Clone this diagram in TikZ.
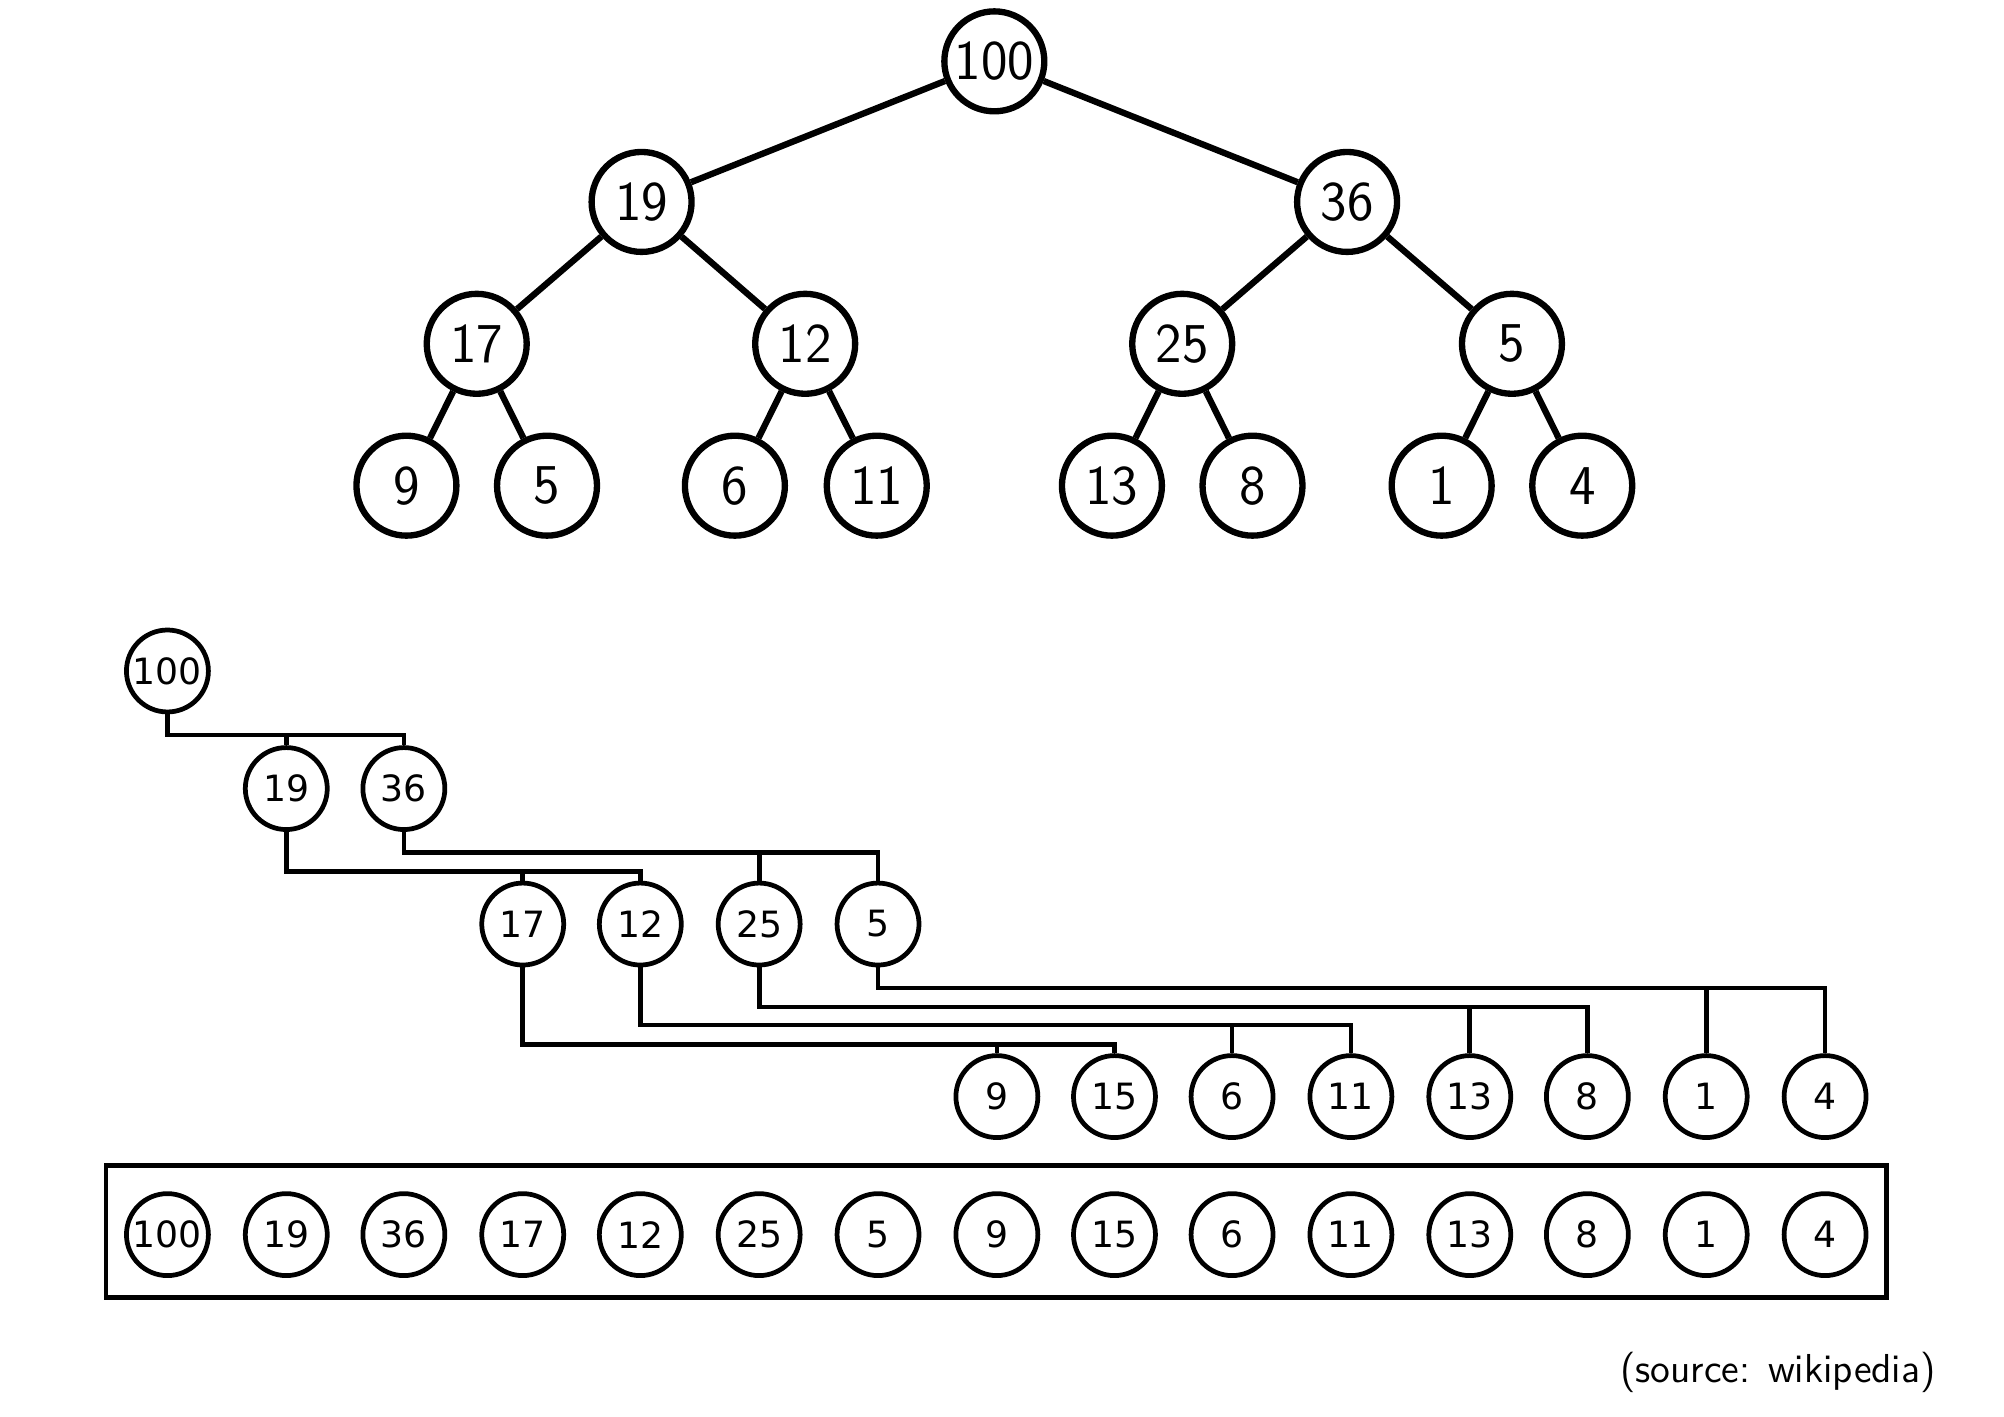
\documentclass[tikz,border=0pt]{standalone}
\usepackage{fontspec}
\newfontfamily\dejavu{DejaVu Sans}
\usepackage{tikz}

\begin{document}
\begin{tikzpicture}[x=0.01278cm,y=-0.01278cm,
  big/.style={draw,circle,line width=1.8pt,minimum size=1cm,inner sep=0pt,font=\sffamily\fontsize{16}{18}\selectfont},
  small/.style={draw,circle,line width=1.35pt,minimum size=0.82cm,inner sep=0pt,font=\dejavu\fontsize{10.3}{12}\selectfont},
  bigline/.style={line width=1.8pt},
  smallline/.style={line width=1.35pt}]
                \useasboundingbox (0,0) rectangle (1568,1108);
                % the tree
                \node[big] (t100) at (778,48) {100};
                \node[big] (t19) at (502,158) {19};
                \node[big] (t36) at (1054,158) {36};
                \node[big] (t17) at (373,269) {17};
                \node[big] (t12) at (630,269) {12};
                \node[big] (t25) at (925,269) {25};
                \node[big] (t5) at (1183,269) {5};
                \node[big] (t9) at (318,380) {9};
                \node[big] (t5b) at (428,380) {5};
                \node[big] (t6) at (575,380) {6};
                \node[big] (t11) at (686,380) {11};
                \node[big] (t13) at (870,380) {13};
                \node[big] (t8) at (980,380) {8};
                \node[big] (t1) at (1128,380) {1};
                \node[big] (t4) at (1238,380) {4};
                \draw[bigline] (t100) -- (t19);
                \draw[bigline] (t100) -- (t36);
                \draw[bigline] (t19) -- (t17);
                \draw[bigline] (t19) -- (t12);
                \draw[bigline] (t36) -- (t25);
                \draw[bigline] (t36) -- (t5);
                \draw[bigline] (t17) -- (t9);
                \draw[bigline] (t17) -- (t5b);
                \draw[bigline] (t12) -- (t6);
                \draw[bigline] (t12) -- (t11);
                \draw[bigline] (t25) -- (t13);
                \draw[bigline] (t25) -- (t8);
                \draw[bigline] (t5) -- (t1);
                \draw[bigline] (t5) -- (t4);
                % the levels
                \node[small] (l100) at (131,525) {100};
                \node[small] (l19) at (224,617) {19};
                \node[small] (l36) at (316,617) {36};
                \node[small] (l17) at (409,723) {17};
                \node[small] (l12) at (501,723) {12};
                \node[small] (l25) at (594,723) {25};
                \node[small] (l5) at (687,723) {5};
                \node[small] (l9) at (780,858) {9};
                \node[small] (l15) at (872,858) {15};
                \node[small] (l6) at (964,858) {6};
                \node[small] (l11) at (1057,858) {11};
                \node[small] (l13) at (1150,858) {13};
                \node[small] (l8) at (1242,858) {8};
                \node[small] (l1) at (1335,858) {1};
                \node[small] (l4) at (1428,858) {4};
                \coordinate (h1) at (131,575);
                \coordinate (h2) at (316,667);
                \coordinate (h3) at (224,682);
                \coordinate (h4) at (687,773);
                \coordinate (h5) at (594,788);
                \coordinate (h6) at (501,802);
                \coordinate (h7) at (409,817);
                \draw[smallline] (l100.south) -- (h1) -| (l36.north);
                \draw[smallline] (l19.north) -- (l19.north |- h1);
                \draw[smallline] (l36.south) -- (h2) -| (l5.north);
                \draw[smallline] (l25.north) -- (l25.north |- h2);
                \draw[smallline] (l19.south) -- (h3) -| (l12.north);
                \draw[smallline] (l17.north) -- (l17.north |- h3);
                \draw[smallline] (l5.south) -- (h4) -| (l4.north);
                \draw[smallline] (l1.north) -- (l1.north |- h4);
                \draw[smallline] (l25.south) -- (h5) -| (l8.north);
                \draw[smallline] (l13.north) -- (l13.north |- h5);
                \draw[smallline] (l12.south) -- (h6) -| (l11.north);
                \draw[smallline] (l6.north) -- (l6.north |- h6);
                \draw[smallline] (l17.south) -- (h7) -| (l15.north);
                \draw[smallline] (l9.north) -- (l9.north |- h7);
                % the array
                \draw[smallline] (83,912) rectangle (1476,1015);
                \node[small] (a1) at (131,966) {100};
                \node[small] (a2) at (224,966) {19};
                \node[small] (a3) at (316,966) {36};
                \node[small] (a4) at (409,966) {17};
                \node[small] (a5) at (501,966) {12};
                \node[small] (a6) at (594,966) {25};
                \node[small] (a7) at (687,966) {5};
                \node[small] (a8) at (780,966) {9};
                \node[small] (a9) at (872,966) {15};
                \node[small] (a10) at (964,966) {6};
                \node[small] (a11) at (1057,966) {11};
                \node[small] (a12) at (1150,966) {13};
                \node[small] (a13) at (1242,966) {8};
                \node[small] (a14) at (1335,966) {1};
                \node[small] (a15) at (1428,966) {4};
                \node[anchor=east,inner sep=0pt,font=\sffamily\fontsize{11.5}{13}\selectfont] (src) at (1515,1074) {(source: wikipedia)};
            \end{tikzpicture}
\end{document}
